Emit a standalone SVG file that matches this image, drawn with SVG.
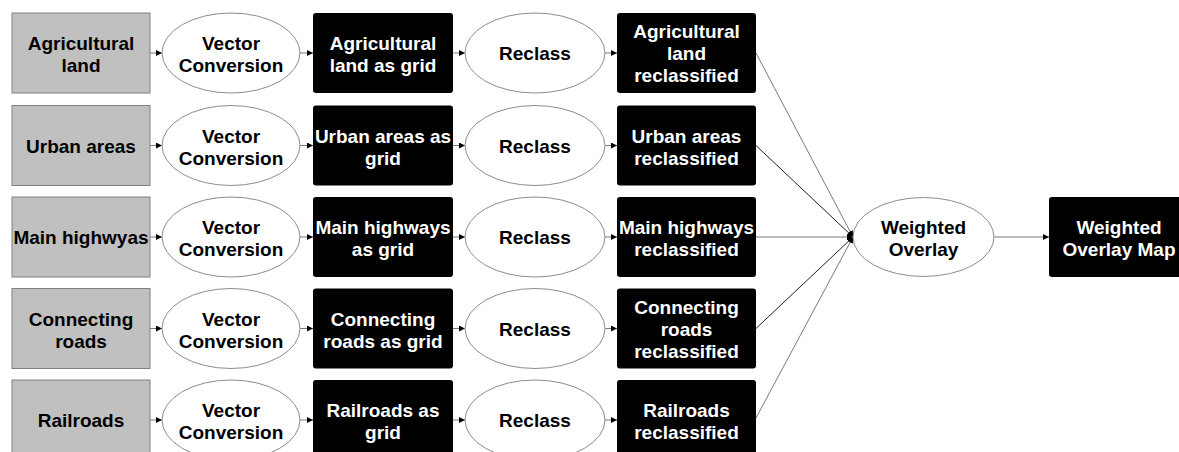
<svg xmlns="http://www.w3.org/2000/svg" width="1179" height="452" viewBox="0 0 1179 452">
<defs>
<style>
.src{fill:#c0c0c0;stroke:#808080;stroke-width:1}
.proc{fill:#fff;stroke:#8c8c8c;stroke-width:1}
.dat{fill:#000;stroke:none}
.t{font-family:"Liberation Sans",Arial,sans-serif;font-weight:bold;font-size:19px;text-anchor:middle}
.tb{fill:#000}
.tw{fill:#fff}
.c{stroke:#7a7a7a;stroke-width:1;fill:none;marker-end:url(#ah)}
.cd{stroke:#222;stroke-width:1;fill:none;marker-end:url(#ah)}
</style>
<marker id="ah" viewBox="0 0 10 10" refX="10" refY="5" markerWidth="6" markerHeight="6" markerUnits="userSpaceOnUse" orient="auto">
<path d="M0,0 L10,5 L0,10 z" fill="#000"/>
</marker>
</defs>
<rect width="1179" height="452" fill="#fff"/>
<g id="connectors">
<line class="c" x1="150" y1="53" x2="162" y2="53"/>
<line class="c" x1="300" y1="53" x2="313" y2="53"/>
<line class="c" x1="453" y1="53" x2="465" y2="53"/>
<line class="c" x1="605" y1="53" x2="617" y2="53"/>
<line class="c" x1="150" y1="145.5" x2="162" y2="145.5"/>
<line class="c" x1="300" y1="145.5" x2="313" y2="145.5"/>
<line class="c" x1="453" y1="145.5" x2="465" y2="145.5"/>
<line class="c" x1="605" y1="145.5" x2="617" y2="145.5"/>
<line class="c" x1="150" y1="237" x2="162" y2="237"/>
<line class="c" x1="300" y1="237" x2="313" y2="237"/>
<line class="c" x1="453" y1="237" x2="465" y2="237"/>
<line class="c" x1="605" y1="237" x2="617" y2="237"/>
<line class="c" x1="150" y1="328.5" x2="162" y2="328.5"/>
<line class="c" x1="300" y1="328.5" x2="313" y2="328.5"/>
<line class="c" x1="453" y1="328.5" x2="465" y2="328.5"/>
<line class="c" x1="605" y1="328.5" x2="617" y2="328.5"/>
<line class="c" x1="150" y1="420" x2="162" y2="420"/>
<line class="c" x1="300" y1="420" x2="313" y2="420"/>
<line class="c" x1="453" y1="420" x2="465" y2="420"/>
<line class="c" x1="605" y1="420" x2="617" y2="420"/>
<line class="c" x1="756" y1="53" x2="853" y2="237"/>
<line class="cd" x1="756" y1="145.5" x2="853" y2="237"/>
<line class="c" x1="756" y1="237" x2="853" y2="237"/>
<line class="cd" x1="756" y1="328.5" x2="853" y2="237"/>
<line class="c" x1="756" y1="418" x2="853" y2="237"/>
<line class="c" x1="994" y1="237" x2="1049" y2="237"/>
</g>
<g id="agri-src"><rect class="src" x="12" y="13" width="138" height="80"/><text class="t tb"><tspan x="81" y="50">Agricultural</tspan><tspan x="81" y="72">land</tspan></text></g>
<g id="agri-vc"><ellipse class="proc" cx="231" cy="53" rx="69" ry="40"/><text class="t tb"><tspan x="231" y="50">Vector</tspan><tspan x="231" y="72">Conversion</tspan></text></g>
<g id="agri-grid"><rect class="dat" x="313" y="13" width="140" height="80" rx="3"/><text class="t tw"><tspan x="383" y="50">Agricultural</tspan><tspan x="383" y="72">land as grid</tspan></text></g>
<g id="agri-rc"><ellipse class="proc" cx="535" cy="53" rx="70" ry="40"/><text class="t tb" x="535" y="60">Reclass</text></g>
<g id="agri-rcd"><rect class="dat" x="617" y="13" width="139" height="80" rx="3"/><text class="t tw"><tspan x="686.5" y="38">Agricultural</tspan><tspan x="686.5" y="60">land</tspan><tspan x="686.5" y="82">reclassified</tspan></text></g>

<g id="urban-src"><rect class="src" x="12" y="105.5" width="138" height="80"/><text class="t tb" x="81" y="152.5">Urban areas</text></g>
<g id="urban-vc"><ellipse class="proc" cx="231" cy="145.5" rx="69" ry="40"/><text class="t tb"><tspan x="231" y="142.5">Vector</tspan><tspan x="231" y="164.5">Conversion</tspan></text></g>
<g id="urban-grid"><rect class="dat" x="313" y="105.5" width="140" height="80" rx="3"/><text class="t tw"><tspan x="383" y="142.5">Urban areas as</tspan><tspan x="383" y="164.5">grid</tspan></text></g>
<g id="urban-rc"><ellipse class="proc" cx="535" cy="145.5" rx="70" ry="40"/><text class="t tb" x="535" y="152.5">Reclass</text></g>
<g id="urban-rcd"><rect class="dat" x="617" y="105.5" width="139" height="80" rx="3"/><text class="t tw"><tspan x="686.5" y="142.5">Urban areas</tspan><tspan x="686.5" y="164.5">reclassified</tspan></text></g>

<g id="hw-src"><rect class="src" x="12" y="197" width="138" height="80"/><text class="t tb" x="81" y="244">Main highwyas</text></g>
<g id="hw-vc"><ellipse class="proc" cx="231" cy="237" rx="69" ry="40"/><text class="t tb"><tspan x="231" y="234">Vector</tspan><tspan x="231" y="256">Conversion</tspan></text></g>
<g id="hw-grid"><rect class="dat" x="313" y="197" width="140" height="80" rx="3"/><text class="t tw"><tspan x="383" y="234">Main highways</tspan><tspan x="383" y="256">as grid</tspan></text></g>
<g id="hw-rc"><ellipse class="proc" cx="535" cy="237" rx="70" ry="40"/><text class="t tb" x="535" y="244">Reclass</text></g>
<g id="hw-rcd"><rect class="dat" x="617" y="197" width="139" height="80" rx="3"/><text class="t tw"><tspan x="686.5" y="234">Main highways</tspan><tspan x="686.5" y="256">reclassified</tspan></text></g>

<g id="cr-src"><rect class="src" x="12" y="288.5" width="138" height="80"/><text class="t tb"><tspan x="81" y="325.5">Connecting</tspan><tspan x="81" y="347.5">roads</tspan></text></g>
<g id="cr-vc"><ellipse class="proc" cx="231" cy="328.5" rx="69" ry="40"/><text class="t tb"><tspan x="231" y="325.5">Vector</tspan><tspan x="231" y="347.5">Conversion</tspan></text></g>
<g id="cr-grid"><rect class="dat" x="313" y="288.5" width="140" height="80" rx="3"/><text class="t tw"><tspan x="383" y="325.5">Connecting</tspan><tspan x="383" y="347.5">roads as grid</tspan></text></g>
<g id="cr-rc"><ellipse class="proc" cx="535" cy="328.5" rx="70" ry="40"/><text class="t tb" x="535" y="335.5">Reclass</text></g>
<g id="cr-rcd"><rect class="dat" x="617" y="288.5" width="139" height="80" rx="3"/><text class="t tw"><tspan x="686.5" y="313.5">Connecting</tspan><tspan x="686.5" y="335.5">roads</tspan><tspan x="686.5" y="357.5">reclassified</tspan></text></g>

<g id="rr-src"><rect class="src" x="12" y="380" width="138" height="80"/><text class="t tb" x="81" y="427">Railroads</text></g>
<g id="rr-vc"><ellipse class="proc" cx="231" cy="420" rx="69" ry="40"/><text class="t tb"><tspan x="231" y="417">Vector</tspan><tspan x="231" y="439">Conversion</tspan></text></g>
<g id="rr-grid"><rect class="dat" x="313" y="380" width="140" height="80" rx="3"/><text class="t tw"><tspan x="383" y="416.5">Railroads as</tspan><tspan x="383" y="438.5">grid</tspan></text></g>
<g id="rr-rc"><ellipse class="proc" cx="535" cy="420" rx="70" ry="40"/><text class="t tb" x="535" y="427">Reclass</text></g>
<g id="rr-rcd"><rect class="dat" x="617" y="380" width="139" height="80" rx="3"/><text class="t tw"><tspan x="686.5" y="416.5">Railroads</tspan><tspan x="686.5" y="438.5">reclassified</tspan></text></g>

<g id="wo"><ellipse class="proc" cx="923.5" cy="237" rx="70.5" ry="39.5"/><text class="t tb"><tspan x="923.5" y="234">Weighted</tspan><tspan x="923.5" y="256">Overlay</tspan></text></g>
<g id="wom"><rect class="dat" x="1049" y="197" width="140" height="80" rx="3"/><text class="t tw"><tspan x="1119" y="234">Weighted</tspan><tspan x="1119" y="256">Overlay Map</tspan></text></g>
</svg>
